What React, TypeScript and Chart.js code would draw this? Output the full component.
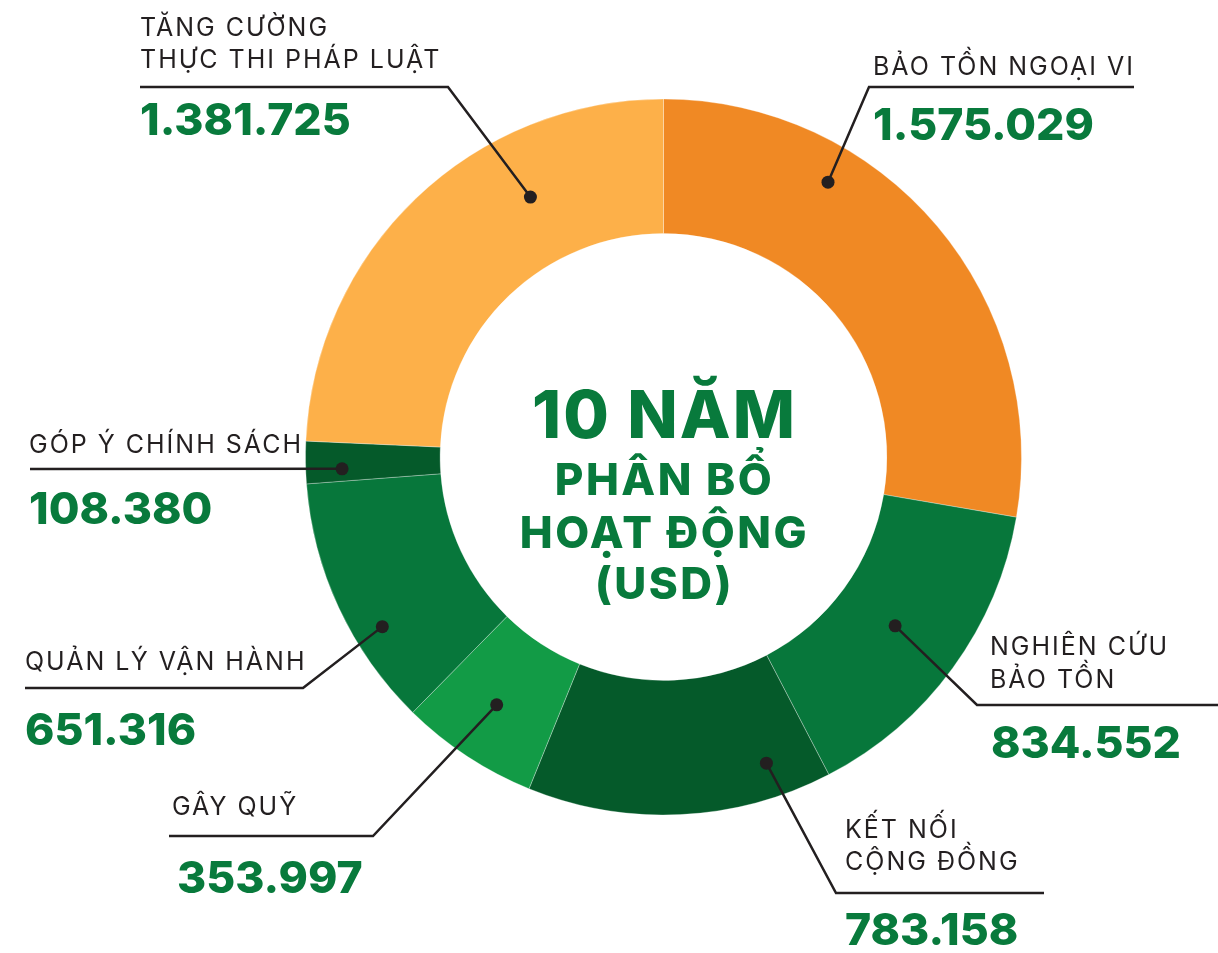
import React, { useEffect, useRef } from "react";
import { Chart, registerables } from "chart.js";

Chart.register(...registerables);

// ---- data (clockwise from 12 o'clock) ----
const categories: string[][] = [
  ["BẢO TỒN NGOẠI VI"],
  ["NGHIÊN CỨU", "BẢO TỒN"],
  ["KẾT NỐI", "CỘNG ĐỒNG"],
  ["GÂY QUỸ"],
  ["QUẢN LÝ VẬN HÀNH"],
  ["GÓP Ý CHÍNH SÁCH"],
  ["TĂNG CƯỜNG", "THỰC THI PHÁP LUẬT"],
];
const values: number[] = [1575029, 834552, 783158, 353997, 651316, 108380, 1381725];
const colors: string[] = ["#F08924", "#07773B", "#055A2A", "#129B46", "#07773B", "#055A2A", "#FDB049"];
const centerTitle: string[] = ["10 NĂM", "PHÂN BỔ", "HOẠT ĐỘNG", "(USD)"];

// ---- callout layout (positions / styles only) ----
type Callout = {
  t: number; r: number; // dot placement inside its arc (fraction of angle, fraction of ring width)
  tx: number; baselines: number[]; numX: number; numBase: number;
  lineY: number; far: number; elbow: number | null;
};
const callouts: Callout[] = [
  { t: 0.31, r: 0.72, tx: 873, baselines: [75], numX: 873, numBase: 140, lineY: 87, far: 1134, elbow: 869 },
  { t: 0.5, r: 0.47, tx: 990, baselines: [655, 688], numX: 991, numBase: 758, lineY: 705, far: 1218, elbow: 977 },
  { t: 0.18, r: 0.74, tx: 845, baselines: [838, 870], numX: 845, numBase: 945, lineY: 893, far: 1044, elbow: 836 },
  { t: 0.53, r: 0.56, tx: 172, baselines: [815], numX: 177, numBase: 893, lineY: 836, far: 169, elbow: 373 },
  { t: 0.35, r: 0.78, tx: 25, baselines: [670], numX: 25, numBase: 745, lineY: 688, far: 25, elbow: 303 },
  { t: 0.32, r: 0.73, tx: 29, baselines: [453], numX: 29, numBase: 524, lineY: 469, far: 30, elbow: null },
  { t: 0.69, r: 0.51, tx: 140, baselines: [36, 68], numX: 140, numBase: 135, lineY: 87, far: 140, elbow: 448 },
];

const fmt = (v: number) => String(v).replace(/\B(?=(\d{3})+(?!\d))/g, ".");

const GREEN_TEXT = "#087A3C";
const DARK = "#231F20";
const FONT = "Inter, 'Open Sans', 'DejaVu Sans', sans-serif";

const calloutPlugin = {
  id: "callouts",
  afterDraw(chart: any) {
    const ctx: any = chart.ctx;
    const meta = chart.getDatasetMeta(0);
    ctx.save();
    meta.data.forEach((arc: any, i: number) => {
      const c = callouts[i];
      const p = arc.getProps(["x", "y", "startAngle", "endAngle", "innerRadius", "outerRadius"], true);
      const a = p.startAngle + c.t * (p.endAngle - p.startAngle);
      const rr = p.innerRadius + c.r * (p.outerRadius - p.innerRadius);
      const dx = p.x + rr * Math.cos(a);
      const dy = p.y + rr * Math.sin(a);
      // leader line
      ctx.strokeStyle = DARK;
      ctx.lineWidth = 2.5;
      ctx.lineJoin = "miter";
      ctx.beginPath();
      ctx.moveTo(c.far, c.lineY);
      if (c.elbow !== null) ctx.lineTo(c.elbow, c.lineY);
      ctx.lineTo(dx, dy);
      ctx.stroke();
      ctx.fillStyle = DARK;
      ctx.beginPath();
      ctx.arc(dx, dy, 6.5, 0, Math.PI * 2);
      ctx.fill();
      // label text
      ctx.textAlign = "left";
      ctx.textBaseline = "alphabetic";
      ctx.letterSpacing = "2px";
      ctx.font = `400 25px ${FONT}`;
      ctx.fillStyle = DARK;
      categories[i].forEach((line, k) => ctx.fillText(line, c.tx, c.baselines[k]));
      // value
      ctx.letterSpacing = "0px";
      ctx.font = `800 44.5px ${FONT}`;
      ctx.fillStyle = GREEN_TEXT;
      ctx.fillText(fmt(values[i]), c.numX, c.numBase);
    });
    // center title
    const cx = (chart.chartArea.left + chart.chartArea.right) / 2;
    ctx.textAlign = "center";
    ctx.fillStyle = GREEN_TEXT;
    ctx.letterSpacing = "2px";
    ctx.font = `800 66px ${FONT}`;
    ctx.fillText(centerTitle[0], cx + 1, 438);
    ctx.letterSpacing = "2.5px";
    ctx.font = `800 44px ${FONT}`;
    ctx.fillText(centerTitle[1], cx + 1, 495);
    ctx.fillText(centerTitle[2], cx + 1, 548);
    ctx.fillText(centerTitle[3], cx + 1, 599);
    ctx.restore();
  },
};

export default function App() {
  const ref = useRef<HTMLCanvasElement | null>(null);
  useEffect(() => {
    if (!ref.current) return;
    const chart = new Chart(ref.current, {
      type: "doughnut",
      data: {
        labels: categories.map((c) => c.join(" ")),
        datasets: [
          {
            data: values,
            backgroundColor: colors,
            borderColor: "rgba(255,255,255,0.3)",
            borderWidth: 1,
          },
        ],
      },
      options: {
        animation: false,
        responsive: false,
        devicePixelRatio: 1,
        cutout: "62.4%",
        layout: { padding: { left: 305, right: 196, top: 98, bottom: 137 } },
        plugins: { legend: { display: false }, tooltip: { enabled: false } },
      },
      plugins: [calloutPlugin],
    });
    return () => chart.destroy();
  }, []);
  return (
    <div style={{ position: "fixed", left: 0, top: 0, width: 1218, height: 953, background: "#fff" }}>
      <canvas ref={ref} width={1218} height={953} style={{ width: 1218, height: 953 }} />
    </div>
  );
}
